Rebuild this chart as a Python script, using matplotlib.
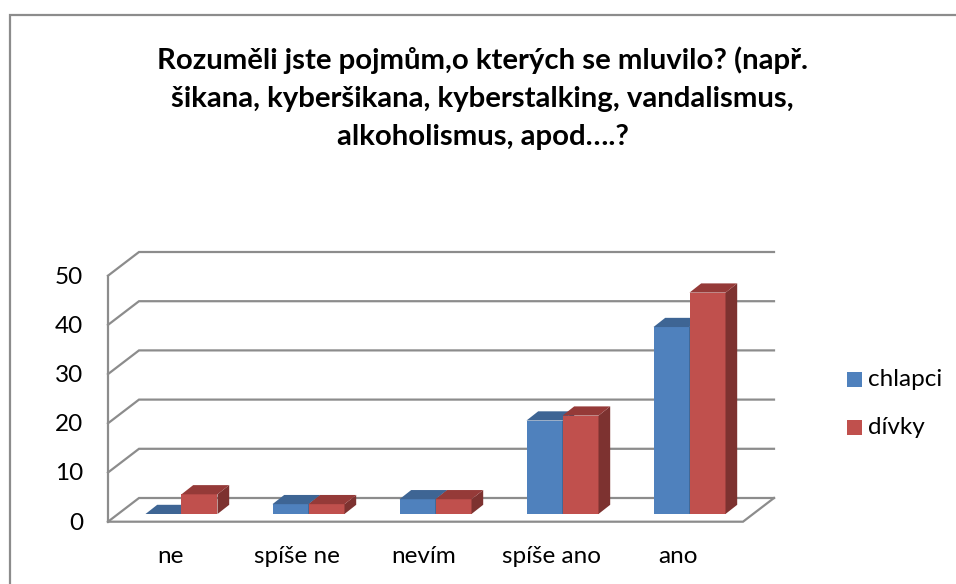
"""Rebuild of the 3D-looking clustered bar chart (chlapci / divky)."""
import matplotlib

matplotlib.use("Agg")
import matplotlib.pyplot as plt
from matplotlib.patches import Polygon, Rectangle

TITLE = "Rozuměli jste pojmům,o kterých se mluvilo? (např.\nšikana, kyberšikana, kyberstalking, vandalismus,\nalkoholismus, apod….?"
CATEGORIES = ["ne", "spíše ne", "nevím", "spíše ano", "ano"]
CHLAPCI = [0, 2, 3, 19, 38]
DIVKY = [4, 2, 3, 20, 45]
Y_TICKS = [0, 10, 20, 30, 40, 50]

W, H = 956, 584
PX_PER_UNIT = 4.92
PX_PER_CAT = 127.0
ZERO_X, ZERO_Y = 181.5, 514.0  # pixel of first category centre / value 0

BLUE = ("#4F81BD", "#3E6594", "#335377")
RED = ("#C0504D", "#953A38", "#7D3230")
GRID = "#8C8C8C"
BAR_W = 36 / PX_PER_CAT


def dx(px):
    return px / PX_PER_CAT


def dy(px):
    return px / PX_PER_UNIT


def draw_bar(ax, x0, value, colors):
    """Front, top and side faces of one bar."""
    w = BAR_W
    ox, oy = dx(11.7), dy(9.2)
    if value > 0:
        ax.add_patch(Rectangle((x0, 0), w, value, fc=colors[0], ec="none", zorder=3))
        ax.add_patch(Polygon([(x0 + w, 0), (x0 + w + ox, oy), (x0 + w + ox, value + oy), (x0 + w, value)],
                             fc=colors[2], ec="none", zorder=3))
    ax.add_patch(Polygon([(x0, value), (x0 + ox, value + oy), (x0 + w + ox, value + oy), (x0 + w, value)],
                         fc=colors[1], ec="none", zorder=3))


def main() -> None:
    plt.rcParams["font.family"] = ["Lato", "DejaVu Sans"]
    fig = plt.figure(figsize=(W / 100, H / 100), dpi=100)
    ax = fig.add_axes([0, 0, 1, 1])
    ax.set_xlim(-ZERO_X / PX_PER_CAT, (W - ZERO_X) / PX_PER_CAT)
    ax.set_ylim(-(H - ZERO_Y) / PX_PER_UNIT, ZERO_Y / PX_PER_UNIT)
    ax.axis("off")

    # outer chart frame: only left and top edges are visible
    fig.add_artist(plt.Line2D([10 / W, 10 / W, 1], [0, 1 - 15 / H, 1 - 15 / H],
                              color=GRID, lw=1.6, solid_joinstyle="miter"))

    # box corners relative to the bar plane
    fx0, bx0 = dx(108 - ZERO_X), dx(139 - ZERO_X)
    fx1, bx1 = dx(743 - ZERO_X), dx(774 - ZERO_X)
    fy, by = -dy(7.7), dy(16)

    for v in Y_TICKS:
        ax.plot([fx0, bx0, bx1], [v + fy, v + by, v + by], color=GRID, lw=1.6, zorder=1,
                solid_joinstyle="miter")
        ax.text(dx(83 - ZERO_X), v + fy - dy(8), str(v), fontsize=17.5, ha="right", va="baseline", color="black")
    ax.plot([fx0, fx0], [fy, Y_TICKS[-1] + fy], color=GRID, lw=1.6, zorder=1)
    ax.plot([fx0, fx1, bx1], [fy, fy, by], color=GRID, lw=1.6, zorder=1, solid_joinstyle="miter")

    for i, cat in enumerate(CATEGORIES):
        draw_bar(ax, i - BAR_W, CHLAPCI[i], BLUE)
        draw_bar(ax, i, DIVKY[i], RED)
        ax.text(i - dx(11.5), dy(ZERO_Y - 563), cat, fontsize=17.5, ha="center", va="baseline", color="black")

    fig.text(482.5 / W, 1 - 98 / H, TITLE, fontsize=21.2, fontweight="bold", ha="center", va="center",
             linespacing=1.58, color="black")

    # legend
    for name, color, y in [("chlapci", BLUE[0], 379.5), ("dívky", RED[0], 427.5)]:
        fig.patches.append(Rectangle((847 / W, 1 - (y + 7.5) / H), 15 / W, 15 / H, fc=color, ec="none",
                                     transform=fig.transFigure))
        fig.text(868 / W, 1 - (y + 7) / H, name, fontsize=17.5, ha="left", va="baseline", color="black")

    fig.savefig("out.png", dpi=100)


if __name__ == "__main__":
    main()
